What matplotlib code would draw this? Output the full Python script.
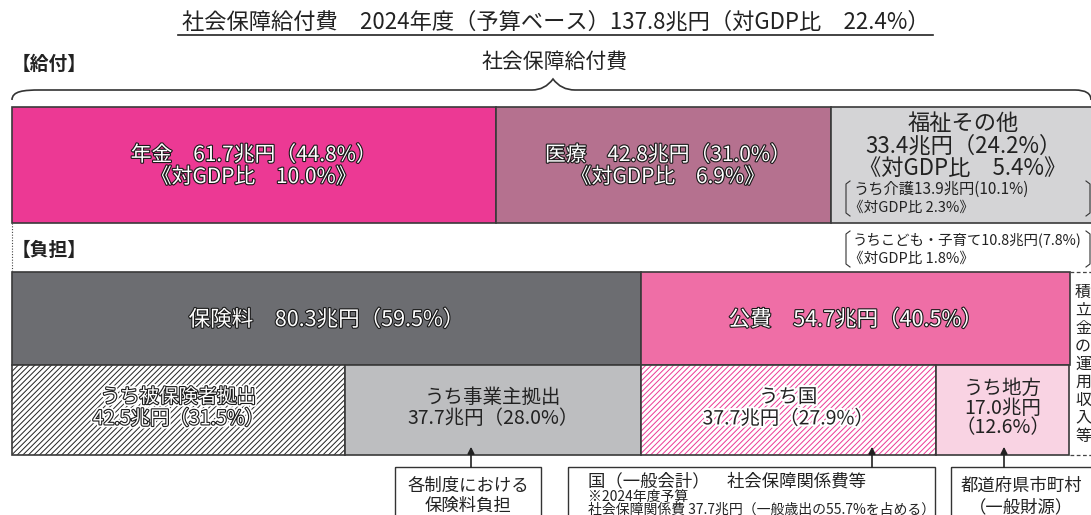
import matplotlib
matplotlib.use("Agg")
import matplotlib.pyplot as plt
import matplotlib.patheffects as pe
from matplotlib.path import Path
from matplotlib.patches import PathPatch, Rectangle
import numpy as np

plt.rcParams['font.family'] = ['Noto Sans CJK JP', 'DejaVu Sans']
plt.rcParams['hatch.linewidth'] = 0.7

# ---- data ----
benefit_labels = ['年金', '医療', '福祉その他']
benefit_values = [61.7, 42.8, 33.4]
benefit_shares = [44.8, 31.0, 24.2]
benefit_gdp = [10.0, 6.9, 5.4]

burden_labels = ['保険料', '公費']
burden_values = [80.3, 54.7]
burden_shares = [59.5, 40.5]

sub_labels = ['うち被保険者拠出', 'うち事業主拠出', 'うち国', 'うち地方']
sub_values = [42.5, 37.7, 37.7, 17.0]
sub_shares = [31.5, 28.0, 27.9, 12.6]

kaigo = (13.9, 10.1, 2.3)
kodomo = (10.8, 7.8, 1.8)
total_value, total_gdp = 137.8, 22.4

# ---- styles ----
benefit_colors = ['#EC3994', '#B5718F', '#D4D4D6']
burden_colors = ['#6C6D71', '#EF6EA6']
sub_colors = ['white', '#BDBEC0', 'white', '#F9D3E3']
sub_hatch = ['//////', None, '//////', None]
sub_hatch_col = ['#222222', None, '#EC3994', None]
EDGE = '#3a3a3a'

fig = plt.figure(figsize=(10.91, 5.15), dpi=100)
ax = fig.add_axes([0, 0, 1, 1])
PX = 1058 / 135.0  # pixels per 兆円
x0 = 12
ax.set_xlim(-x0 / PX, (1091 - x0) / PX)
ax.set_ylim(515, 0)
ax.axis('off')

def px(xpix):
    return (xpix - x0) / PX

white_fx = [pe.Stroke(linewidth=1.6, foreground='#1a1a1a'), pe.Normal()]
white_fx_halo = [pe.Stroke(linewidth=4, foreground='white'),
                 pe.Stroke(linewidth=1.6, foreground='#1a1a1a'), pe.Normal()]
halo_fx = [pe.Stroke(linewidth=3, foreground='white'), pe.Normal()]

# title
ax.text(px(556), 22, f'社会保障給付費　2024年度（予算ベース）{total_value}兆円（対GDP比　{total_gdp}%）',
        ha='center', va='center', fontsize=16, color='#222')
ax.plot([px(178), px(933)], [35, 35], color='#222', lw=1.2)

ax.text(px(12), 64, '【給付】', ha='left', va='center', fontsize=13.5, fontweight='bold', color='#222')
ax.text(px(555), 62, '社会保障給付費', ha='center', va='center', fontsize=15, color='#222')

# brace
verts = [(px(12), 100), (px(12), 91), (px(24), 90), (px(40), 90),
         (px(532), 90), (px(545), 90), (px(553), 79),
         (px(561), 90), (px(575), 90),
         (px(1075), 90), (px(1091), 90), (px(1091), 100)]
codes = [Path.MOVETO, Path.CURVE4, Path.CURVE4, Path.CURVE4,
         Path.LINETO, Path.CURVE3, Path.CURVE3,
         Path.CURVE3, Path.CURVE3,
         Path.LINETO, Path.CURVE3, Path.CURVE3]
ax.add_patch(PathPatch(Path(verts, codes), fill=False, lw=1.2, color='#333'))

# benefit row
yb, hb = 107, 116
left = 0
for i, (v, c) in enumerate(zip(benefit_values, benefit_colors)):
    ax.barh(yb + hb / 2, v, left=left, height=hb, color=c, edgecolor=EDGE, lw=1.2)
    left += v
bl = np.cumsum([0] + benefit_values)
ax.text((bl[0] + bl[1]) / 2, 166,
        f'{benefit_labels[0]}　{benefit_values[0]}兆円（{benefit_shares[0]}%）\n《対GDP比　{benefit_gdp[0]}%》',
        ha='center', va='center', fontsize=15, color='white', linespacing=1.0, path_effects=white_fx)
ax.text((bl[1] + bl[2]) / 2 + 0.6, 166,
        f'{benefit_labels[1]}　{benefit_values[1]}兆円（{benefit_shares[1]}%）\n《対GDP比　{benefit_gdp[1]}%》',
        ha='center', va='center', fontsize=15, color='white', linespacing=1.0, path_effects=white_fx)
ax.text(px(963), 146,
        f'{benefit_labels[2]}\n{benefit_values[2]}兆円（{benefit_shares[2]}%）\n《対GDP比　{benefit_gdp[2]}%》',
        ha='center', va='center', fontsize=16, color='#222', linespacing=0.95)

def bracket(xl, xr, yt, ybm):
    ax.plot([px(xl + 4), px(xl), px(xl), px(xl + 4)], [yt, yt + 3, ybm - 3, ybm], color='#333', lw=0.8)
    ax.plot([px(xr - 4), px(xr), px(xr), px(xr - 4)], [yt, yt + 3, ybm - 3, ybm], color='#333', lw=0.8)

ax.text(px(853), 189, f'うち介護{kaigo[0]}兆円({kaigo[1]}%)', ha='left', va='center', fontsize=11, color='#222')
ax.text(px(849), 208, f'《対GDP比 {kaigo[2]}%》', ha='left', va='center', fontsize=10.5, color='#222')
bracket(846, 1090, 181, 216)
ax.text(px(853), 240, f'うちこども・子育て{kodomo[0]}兆円({kodomo[1]}%)', ha='left', va='center', fontsize=10.4, color='#222')
ax.text(px(849), 259, f'《対GDP比 {kodomo[2]}%》', ha='left', va='center', fontsize=10.5, color='#222')
bracket(846, 1090, 231, 267)

# left dotted connector
ax.plot([px(12), px(12)], [223, 272], color='#444', lw=0.8, ls=(0, (1, 1.5)))
ax.text(px(12), 250, '【負担】', ha='left', va='center', fontsize=13.5, fontweight='bold', color='#222')

# burden row
yr, hr = 272, 93
left = 0
for v, c in zip(burden_values, burden_colors):
    ax.barh(yr + hr / 2, v, left=left, height=hr, color=c, edgecolor=EDGE, lw=1.2)
    left += v
rl = np.cumsum([0] + burden_values)
for i in range(2):
    ax.text((rl[i] + rl[i + 1]) / 2, 320, f'{burden_labels[i]}　{burden_values[i]}兆円（{burden_shares[i]}%）',
            ha='center', va='center', fontsize=15.5, color='white', path_effects=white_fx)

# sub row
ys, hs = 365, 90
sl = np.cumsum([0] + sub_values)
for i, v in enumerate(sub_values):
    if sub_hatch[i]:
        ax.barh(ys + hs / 2, v, left=sl[i], height=hs, color='white', edgecolor=sub_hatch_col[i],
                hatch=sub_hatch[i], lw=0)
        ax.barh(ys + hs / 2, v, left=sl[i], height=hs, fill=False, edgecolor=EDGE, lw=1.2)
    else:
        ax.barh(ys + hs / 2, v, left=sl[i], height=hs, color=sub_colors[i], edgecolor=EDGE, lw=1.2)

ax.text((sl[0] + sl[1]) / 2, 408, f'{sub_labels[0]}\n{sub_values[0]}兆円（{sub_shares[0]}%）',
        ha='center', va='center', fontsize=14, color='white', linespacing=1.05, path_effects=white_fx_halo)
ax.text((sl[1] + sl[2]) / 2, 408, f'{sub_labels[1]}\n{sub_values[1]}兆円（{sub_shares[1]}%）',
        ha='center', va='center', fontsize=14, color='#222', linespacing=1.05)
ax.text((sl[2] + sl[3]) / 2, 408, f'{sub_labels[2]}\n{sub_values[2]}兆円（{sub_shares[2]}%）',
        ha='center', va='center', fontsize=14, color='#222', linespacing=1.05, path_effects=halo_fx)
ax.text((sl[3] + sl[4]) / 2, 408, f'{sub_labels[3]}\n{sub_values[3]}兆円\n（{sub_shares[3]}%）',
        ha='center', va='center', fontsize=14, color='#222', linespacing=0.92)

# right side: reserve fund income
ax.plot([px(1070), px(1091)], [272, 272], color='#444', lw=0.9, ls=(0, (3, 2)))
ax.plot([px(1070), px(1091)], [455, 455], color='#444', lw=0.9, ls=(0, (3, 2)))
for k, ch in enumerate('積立金の運用収入等'):
    ax.text(px(1083), 292 + k * 18, ch, ha='center', va='center', fontsize=11.5, color='#222')

# arrows and note boxes
def arrow(xp):
    ax.annotate('', xy=(px(xp), 444), xytext=(px(xp), 470),
                arrowprops=dict(arrowstyle='-|>', color='#222', lw=1.2, mutation_scale=10))

arrow(471)
arrow(872)
arrow(1004)

for (xa, xb) in [(395, 541), (568, 935), (951, 1095)]:
    ax.add_patch(Rectangle((px(xa), 467), px(xb) - px(xa), 60, fill=False, edgecolor='#333', lw=1.0))

ax.text(px(468), 486, '各制度における', ha='center', va='center', fontsize=12.5, color='#222')
ax.text(px(468), 506, '保険料負担', ha='center', va='center', fontsize=12.5, color='#222')
ax.text(px(588), 481, '国（一般会計）　社会保障関係費等', ha='left', va='center', fontsize=12.5, color='#222')
ax.text(px(588), 497, '※2024年度予算', ha='left', va='center', fontsize=10, color='#222')
ax.text(px(588), 510, '社会保障関係費 37.7兆円（一般歳出の55.7%を占める）', ha='left', va='center', fontsize=10, color='#222')
ax.text(px(1021), 486, '都道府県市町村', ha='center', va='center', fontsize=12.5, color='#222')
ax.text(px(1021), 507, '（一般財源）', ha='center', va='center', fontsize=12.5, color='#222')

fig.savefig('out.png', dpi=100)
